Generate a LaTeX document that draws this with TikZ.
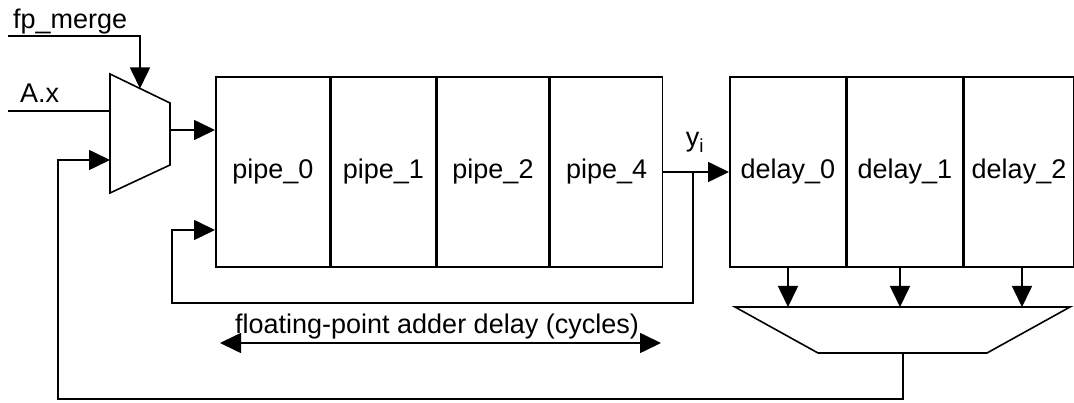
\documentclass[tikz,border=0pt]{standalone}
\usepackage{fontspec}
\setmainfont{Liberation Sans}
\usetikzlibrary{arrows.meta}
\begin{document}
\begin{tikzpicture}[x=1pt,y=-1pt,
  wire/.style={line width=1.6pt},
  arr/.style={wire,-{Triangle[length=21pt,width=20pt]}},
  darr/.style={wire,{Triangle[length=21pt,width=20pt]}-{Triangle[length=21pt,width=20pt]}},
  stage/.style={draw,line width=1.6pt,rectangle,inner sep=0pt,minimum height=190pt,font=\fontsize{27}{27}\selectfont},
  lbl/.style={font=\fontsize{27}{27}\selectfont,inner sep=0pt}]
\useasboundingbox (0,0) rectangle (1074,403);
% pipeline stages
\node[stage,minimum width=114pt,anchor=north west] (p0) at (215,76) {pipe\_0};
\node[stage,minimum width=104pt,anchor=north west] (p1) at (p0.north east) {pipe\_1};
\node[stage,minimum width=112pt,anchor=north west] (p2) at (p1.north east) {pipe\_2};
\node[stage,minimum width=112pt,anchor=north west] (p4) at (p2.north east) {pipe\_4};
% delay stages
\node[stage,minimum width=116pt,anchor=north west] (d0) at (729,76) {delay\_0};
\node[stage,minimum width=115pt,anchor=north west] (d1) at (d0.north east) {delay\_1};
\node[stage,minimum width=110pt,anchor=north west] (d2) at (d1.north east) {delay\_2};
% input mux
\coordinate (m1) at (110,74);
\coordinate (m2) at (170,103);
\coordinate (m3) at (170,165);
\coordinate (m4) at (110,193);
\draw[wire,line join=miter] (m1) -- (m2) -- (m3) -- (m4) -- cycle;
\coordinate (mout) at (170,130);
\coordinate (msel) at (140,88.5);
\coordinate (ma) at (110,111);
\coordinate (mfb) at (110,160);
% output selector
\coordinate (s1) at (735,307);
\coordinate (s2) at (1070,307);
\coordinate (s3) at (987,353);
\coordinate (s4) at (818,353);
\draw[wire,line join=miter] (s1) -- (s2) -- (s3) -- (s4) -- cycle;
% labels
\node[lbl,anchor=base west] (fpm) at (13,29) {fp\_merge};
\node[lbl,anchor=base west] (ax) at (20,103) {A.x};
\node[lbl,anchor=base] (yi) at (695,147) {y\textsubscript{i}};
\node[lbl,anchor=base] (fl) at (437,334) {floating-point adder delay (cycles)};
% wires
\coordinate (fpin) at (8,36);
\coordinate (axin) at (8,111);
\draw[arr] (fpin) -- (140,36) -- (msel);
\draw[wire] (axin) -- (ma);
\draw[arr] (mout) -- (mout -| p0.west);
\coordinate (br) at (693,172);
\draw[arr] (p4.east |- br) -- (d0.west |- br);
\draw[arr] (br) -- (693,303) -- (172,303) -- (172,230) -- (p0.west |- 0,230);
% delay taps to selector
\draw[arr] (788,266) -- (788,307);
\draw[arr] (900,266) -- (900,307);
\draw[arr] (1022,266) -- (1022,307);
% selector feedback to mux
\draw[arr] (903,353) -- (903,399) -- (58,399) -- (58,160) -- (mfb);
% double arrow
\coordinate (dl) at (220,343);
\coordinate (dr) at (661,343);
\draw[darr] (dl) -- (dr);
\end{tikzpicture}
\end{document}
